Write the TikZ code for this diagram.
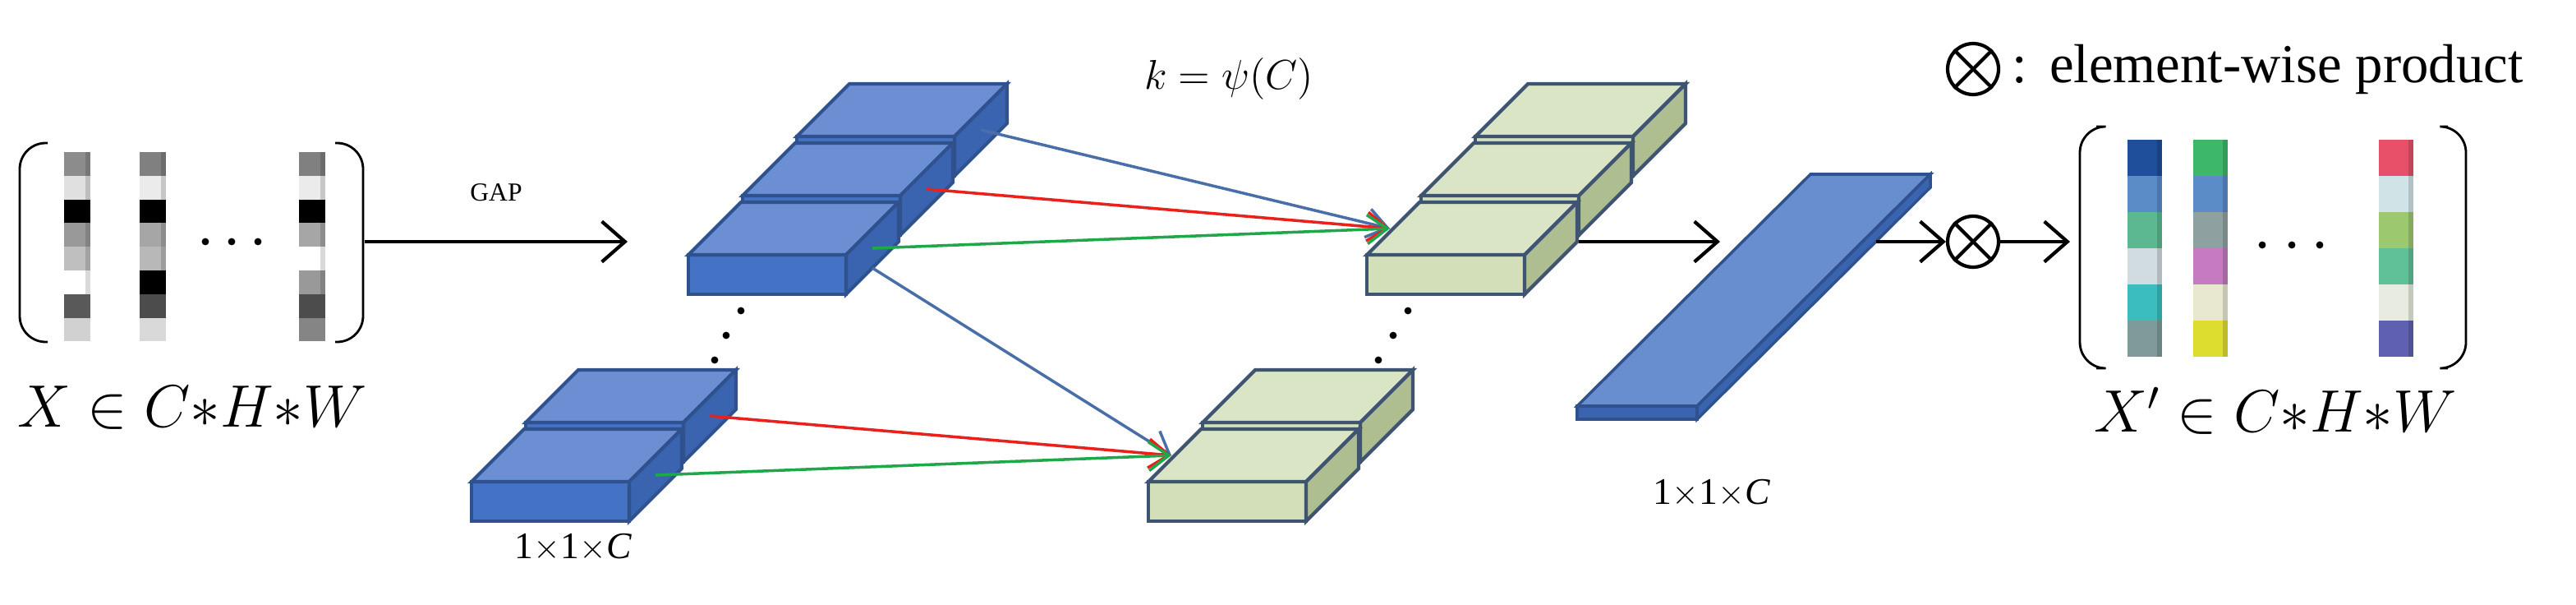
\documentclass[tikz,border=0pt]{standalone}
\usepackage{fontspec}
\setmainfont{Liberation Serif}
\usetikzlibrary{positioning}
\usetikzlibrary{calc}
\usetikzlibrary{arrows.meta}

\definecolor{bxfront}{HTML}{4472C4}
\definecolor{bxtop}{HTML}{6C8FD4}
\definecolor{bxside}{HTML}{3B64B0}
\definecolor{bxline}{HTML}{2F528F}
\definecolor{gxfront}{HTML}{D2DFB8}
\definecolor{gxtop}{HTML}{DAE5C6}
\definecolor{gxside}{HTML}{AEBE90}
\definecolor{gxline}{HTML}{3E5470}
\definecolor{arrblue}{HTML}{4A6FA8}
\definecolor{arrred}{HTML}{E8211C}
\definecolor{arrgreen}{HTML}{1FA84A}
% colours of the output channels
\definecolor{ca1}{HTML}{1F4E9A}\definecolor{ca2}{HTML}{5B8CC8}\definecolor{ca3}{HTML}{5BB890}
\definecolor{ca4}{HTML}{D0DCE0}\definecolor{ca5}{HTML}{3BBDBD}\definecolor{ca6}{HTML}{7F9A9A}
\definecolor{cb1}{HTML}{3DB86A}\definecolor{cb2}{HTML}{5B8CC8}\definecolor{cb3}{HTML}{8FA0A0}
\definecolor{cb4}{HTML}{C47BC0}\definecolor{cb5}{HTML}{E8E8D0}\definecolor{cb6}{HTML}{DDDD30}
\definecolor{cc1}{HTML}{E8506A}\definecolor{cc2}{HTML}{D0E4E8}\definecolor{cc3}{HTML}{9CC870}
\definecolor{cc4}{HTML}{60C098}\definecolor{cc5}{HTML}{E8ECE0}\definecolor{cc6}{HTML}{6060B0}

\def\cw{96}
\def\ch{24}
\def\cdx{32}
\def\cdy{32}
% cuboid: name, x, y (front bottom left), colour prefix
\newcommand{\cuboid}[4]{%
	\coordinate (#1) at (#2,#3);
	\filldraw[fill=#4front,draw=#4line,line width=1.2pt] (#1) rectangle ++(\cw,-\ch);
	\filldraw[fill=#4top,draw=#4line,line width=1.2pt] (#1) ++(0,-\ch) -- ++(\cdx,-\cdy) -- ++(\cw,0) -- ++(-\cdx,\cdy) -- cycle;
	\filldraw[fill=#4side,draw=#4line,line width=1.2pt] (#1) ++(\cw,0) -- ++(0,-\ch) -- ++(\cdx,-\cdy) -- ++(0,\ch) -- cycle;
	\coordinate (#1-s) at ($(#1)+(\cw+\cdx/2,-\ch/2-\cdy/2)$);
	\coordinate (#1-b) at ($(#1)+(\cw+\cdx/2,-\cdy/2)$);
	\coordinate (#1-t) at ($(#1)+(14,-\ch-16)$);
}
% channel bar: x, y top, segment height, width, colours
\newcommand{\chbar}[5]{%
	\foreach \c [count=\i from 0] in {#5}
	\fill[\c] (#1,#2+\i*#3) rectangle ++(#4,#3);
	\fill[black,opacity=0.15] (#1+#4-3,#2) rectangle (#1+#4,#2+6*#3);
}

\begin{document}
\begin{tikzpicture}[x=0.02cm,y=-0.02cm,
	arr/.style={-{Straight Barb[length=8pt,width=14pt]},line width=1.2pt},
	thin arr/.style={-{Straight Barb[length=7pt,width=10pt]},line width=1pt},
	prod/.style={draw,circle,line width=1.2pt,minimum size=0.62cm,inner sep=0pt},
	lbl/.style={inner sep=0pt}]
	\useasboundingbox (0,0) rectangle (1568,368);
	
	% input feature map
	\draw[line width=0.8pt,rounded corners=9] (29,87) -- (12,87) -- (12,208) -- (29,208);
	\draw[line width=0.8pt,rounded corners=9] (204,87) -- (221,87) -- (221,208) -- (204,208);
	\chbar{39}{92.5}{14.4}{16}{black!45,black!12,black,black!40,black!25,white,black!65,black!18}
	\chbar{85}{92.5}{14.4}{16}{black!50,black!8,black,black!35,black!28,black,black!70,black!15}
	\chbar{182}{92.5}{14.4}{16}{black!50,black!8,black,black!35,white,black!40,black!70,black!48}
	\foreach \x in {125,141,157} \fill (\x,147) circle (2.2);
	\node[lbl,font=\fontsize{20}{24}\selectfont] (xin) at (117,248) {$X\in C{*}H{*}W$};
	
	\coordinate (inR) at (222,147);
	\coordinate (stackIn) at (382,147);
	\draw[arr] (inR) -- (stackIn) node[midway,above=10pt,font=\fontsize{9}{10}\selectfont] {GAP};
	
	% pooled channels
	\cuboid{bu1}{485}{107}{bx}
	\cuboid{bu2}{452}{143}{bx}
	\cuboid{bu3}{419}{179}{bx}
	\cuboid{bl1}{320}{281}{bx}
	\cuboid{bl2}{287}{317}{bx}
	\foreach \x/\y in {451/189,442/204,435/219} \fill (\x,\y) circle (2.2);
	\node[lbl,font=\fontsize{13}{15}\selectfont] (size1) at (349,333) {1$\times$1$\times$\textit{C}};
	
	% convolved channels
	\cuboid{gu1}{898}{107}{gx}
	\cuboid{gu2}{865}{143}{gx}
	\cuboid{gu3}{832}{179}{gx}
	\cuboid{gl1}{732}{281}{gx}
	\cuboid{gl2}{699}{317}{gx}
	\foreach \x/\y in {857/189,848/204,839/219} \fill (\x,\y) circle (2.2);
	\node[lbl,font=\fontsize{15}{18}\selectfont] (kpsi) at (748,48) {$k=\psi(C)$};
	
	% 1D convolution
	\draw[thin arr,arrblue] (bu1-s) -- (gu3-t);
	\draw[thin arr,arrred] (bu2-s) -- (gu3-t);
	\draw[thin arr,arrgreen] (bu3-s) -- (gu3-t);
	\draw[thin arr,arrblue] (bu3-b) -- (gl2-t);
	\draw[thin arr,arrred] (bl1-s) -- (gl2-t);
	\draw[thin arr,arrgreen] (bl2-s) -- (gl2-t);
	
	% weights
	\coordinate (gout) at (961,147);
	\coordinate (slabIn) at (1047,147);
	\draw[arr] (gout) -- (slabIn);
	\filldraw[fill=bxfront!80!white,draw=bxline,line width=1pt] (960,247) -- (1102,106) -- (1175,106) -- (1033,247) -- cycle;
	\filldraw[fill=bxside,draw=bxline,line width=1pt] (960,247) -- (1033,247) -- (1033,255) -- (960,255) -- cycle;
	\filldraw[fill=bxside,draw=bxline,line width=1pt] (1033,247) -- (1175,106) -- (1175,114) -- (1033,255) -- cycle;
	\node[lbl,font=\fontsize{13}{15}\selectfont] (size2) at (1042,300) {1$\times$1$\times$\textit{C}};
	
	\coordinate (slabOut) at (1142,147);
	\node[prod] (mul) at (1201,147) {};
	\draw[line width=1.2pt] (mul.north west) -- (mul.south east) (mul.north east) -- (mul.south west);
	\draw[arr] (slabOut) -- (mul);
	\coordinate (outL) at (1260,147);
	\draw[arr] (mul) -- (outL);
	
	% output feature map
	\draw[line width=0.8pt,rounded corners=9] (1276,77) -- (1266,77) -- (1266,224) -- (1276,224);
	\draw[line width=0.8pt,rounded corners=9] (1490,77) -- (1501,77) -- (1501,224) -- (1490,224);
	\chbar{1295}{85}{22}{21}{ca1,ca2,ca3,ca4,ca5,ca6}
	\chbar{1335}{85}{22}{21}{cb1,cb2,cb3,cb4,cb5,cb6}
	\chbar{1448}{85}{22}{21}{cc1,cc2,cc3,cc4,cc5,cc6}
	\foreach \x in {1377,1395,1412} \fill (\x,149) circle (2.2);
	\node[lbl,font=\fontsize{20}{24}\selectfont] (xout) at (1385,250) {$X'\in C{*}H{*}W$};
	
	% legend
	\node[prod] (legmul) at (1201,42) {};
	\draw[line width=1.2pt] (legmul.north west) -- (legmul.south east) (legmul.north east) -- (legmul.south west);
	\node[lbl,anchor=west,font=\fontsize{19}{22}\selectfont] (legtext) [right=4pt of legmul] {:\hspace{0.4em}element-wise product};
\end{tikzpicture}
\end{document}
